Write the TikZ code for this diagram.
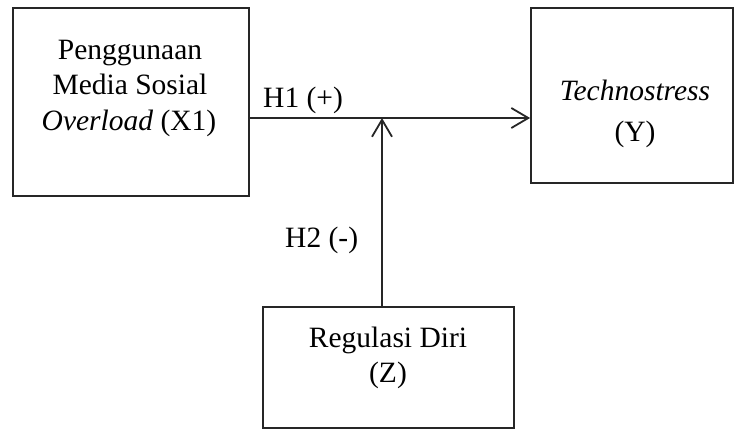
\documentclass[tikz,border=0pt]{standalone}
\usepackage{fontspec}
\setmainfont{Liberation Serif}
\usetikzlibrary{arrows.meta}
\begin{document}
\begin{tikzpicture}[x=1pt,y=-1pt,
  box/.style={draw=black!85, line width=1.8pt, inner sep=0pt},
  txt/.style={anchor=base, inner sep=0pt, font=\fontsize{29.5}{35}\selectfont},
  lbl/.style={anchor=base west, inner sep=0pt, font=\fontsize{29.5}{35}\selectfont},
  conn/.style={draw=black!85, line width=1.8pt,
    -{Straight Barb[length=17pt,width=20pt,line width=1.8pt]}}]
  \useasboundingbox (0,0) rectangle (737,436);
  % boxes
  \node[box, minimum width=236pt, minimum height=188pt] (x1) at (131,102) {};
  \node[box, minimum width=202pt, minimum height=175pt] (y) at (632,95.5) {};
  \node[box, minimum width=251pt, minimum height=121pt] (z) at (388.5,367.5) {};
  % box texts
  \node[txt] (x1a) at (130,60) {Penggunaan};
  \node[txt] (x1b) at (130,95) {Media Sosial};
  \node[txt] (x1c) at (129,131) {\textit{Overload} (X1)};
  \node[txt] (ya) at (635,101) {\textit{Technostress}};
  \node[txt] (yb) at (635,142) {(Y)};
  \node[txt] (za) at (388,347) {Regulasi Diri};
  \node[txt] (zb) at (388,382) {(Z)};
  % path labels
  \node[lbl] (h1) at (263,108) {H1 (+)};
  \node[lbl] (h2) at (285,247) {H2 (-)};
  % connectors
  \coordinate (m) at (382,118);
  \draw[conn] (x1.east |- m) -- (y.west |- m);
  \draw[conn] (m |- z.north) -- (m);
\end{tikzpicture}
\end{document}
